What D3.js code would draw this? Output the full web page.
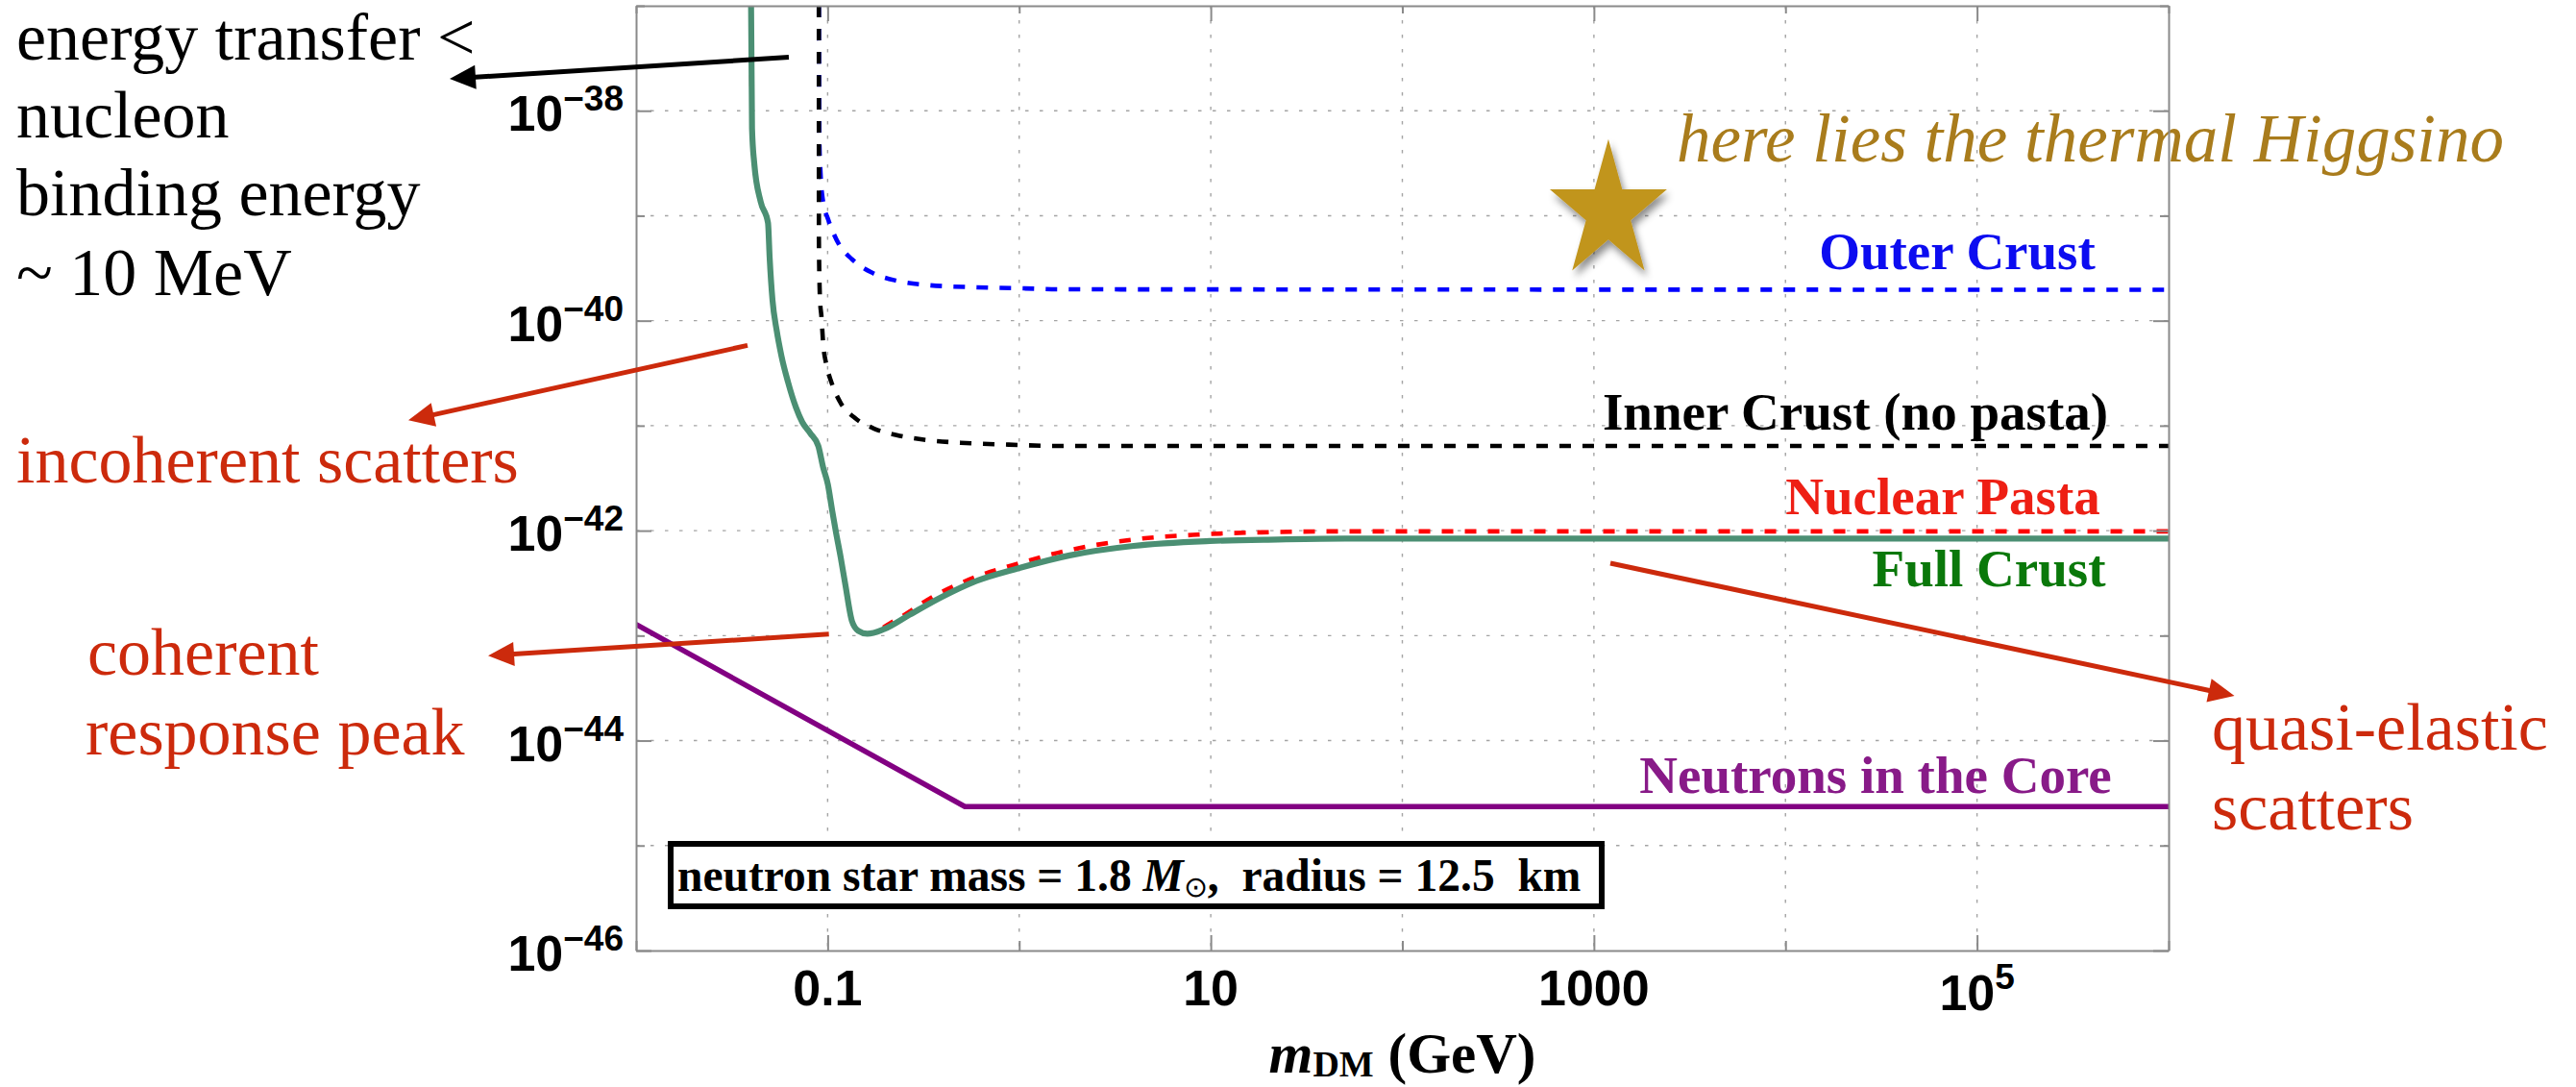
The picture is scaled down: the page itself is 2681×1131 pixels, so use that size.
<!DOCTYPE html>
<html>
<head>
<meta charset="utf-8">
<script src="https://cdn.jsdelivr.net/npm/d3@7"></script>
<style>
  html, body { margin: 0; padding: 0; background: #ffffff; }
  svg { display: block; }
  text { white-space: pre; }
</style>
</head>
<body>
<svg id="chart" width="2681" height="1131"></svg>
<script>
// ---- Dark-matter scattering sensitivity vs. DM mass (GeV) ----

// Full crust (solid green)
const fullCrustMass = [0.03984, 0.0403, 0.04139, 0.04471, 0.04883, 0.0498, 0.05154, 0.05417, 0.05739, 0.06201,
  0.06823, 0.07372, 0.08111, 0.08938, 0.09471, 0.1003, 0.1055, 0.1104, 0.117, 0.124,
  0.134, 0.1445, 0.1611, 0.1967, 0.2679, 0.3934, 0.5778, 0.9908, 1.834, 3.961,
  9.897, 22.39, 50.23, 1e6];
const fullCrustSigma = [1e-37, 6.75e-39, 3.16e-39, 1.36e-39, 8.55e-40, 4.01e-40, 1.57e-40, 8.11e-41, 4.62e-41, 2.63e-41,
  1.50e-41, 1.08e-41, 8.49e-42, 6.41e-42, 4.01e-42, 2.75e-42, 1.57e-42, 9.77e-43, 5.56e-43, 2.98e-43,
  1.37e-43, 1.11e-43, 1.04e-43, 1.15e-43, 1.58e-43, 2.33e-43, 3.24e-43, 4.38e-43, 5.81e-43, 7.16e-43,
  7.96e-43, 8.24e-43, 8.4e-43, 8.4e-43];

// Nuclear pasta (red dashed)
const pastaMass = [0.03984, 0.0403, 0.04139, 0.04471, 0.04883, 0.0498, 0.05154, 0.05417, 0.05739, 0.06201,
  0.06823, 0.07372, 0.08111, 0.08938, 0.09471, 0.1003, 0.1055, 0.1104, 0.117, 0.124,
  0.134, 0.1445, 0.1611, 0.2208, 0.364, 0.5778, 0.9908, 1.834, 3.961, 8.556,
  18.47, 46.35, 1e6];
const pastaSigma = [1e-37, 6.75e-39, 3.16e-39, 1.36e-39, 8.55e-40, 4.01e-40, 1.57e-40, 8.11e-41, 4.62e-41, 2.63e-41,
  1.50e-41, 1.08e-41, 8.49e-42, 6.41e-42, 4.01e-42, 2.75e-42, 1.57e-42, 9.77e-43, 5.56e-43, 2.98e-43,
  1.37e-43, 1.11e-43, 1.04e-43, 1.37e-43, 2.41e-43, 3.55e-43, 4.86e-43, 6.53e-43, 8.24e-43, 9.16e-43,
  9.64e-43, 9.84e-43, 9.84e-43];

// Inner crust, no pasta (black dashed)
const innerMass = [0.09, 0.09002, 0.09125, 0.09287, 0.09471, 0.0984, 0.1042, 0.117, 0.1391, 0.1752,
  0.2294, 0.3122, 0.4955, 0.8826, 1.573, 1e6];
const innerSigma = [1e-37, 5.86e-40, 1.585e-40, 1.086e-40, 6.15e-41, 3.83e-41, 2.65e-41, 1.644e-41, 1.18e-41, 9.35e-42,
  8.13e-42, 7.38e-42, 6.87e-42, 6.59e-42, 6.41e-42, 6.41e-42];

// Outer crust (blue dashed)
const outerMass = [0.09, 0.09053, 0.09181, 0.09471, 0.1003, 0.1063, 0.1147, 0.134, 0.1688, 0.2294,
  0.3373, 0.6008, 1.071, 1.573, 1e6];
const outerSigma = [1e-37, 5.13e-39, 2.56e-39, 1.36e-39, 9.37e-40, 7.08e-40, 5.32e-40, 3.85e-40, 2.89e-40, 2.40e-40,
  2.18e-40, 2.08e-40, 2.03e-40, 1.99e-40, 1.97e-40];

// Neutrons in the core (purple)
const coreMass = [0.01, 0.52, 1e6];
const coreSigma = [1.28e-43, 2.35e-45, 2.35e-45];

// Thermal Higgsino marker
const higgsinoMass = [1190];
const higgsinoSigma = [1.09e-39];

// Axis ticks and labels
const xTickValues = [1e-2, 1e-1, 1, 10, 100, 1e3, 1e4, 1e5, 1e6];
const xLabelValues = [0.1, 10, 1000, 1e5];
const xLabelBase = ["0.1", "10", "1000", "10"];
const xLabelSup = ["", "", "", "5"];
const yTickValues = [1e-46, 1e-45, 1e-44, 1e-43, 1e-42, 1e-41, 1e-40, 1e-39, 1e-38, 1e-37];
const yLabelValues = [1e-38, 1e-40, 1e-42, 1e-44, 1e-46];
const yLabelSup = ["\u221238", "\u221240", "\u221242", "\u221244", "\u221246"];

// ---- layout ----
const plot = { left: 662, right: 2257, top: 6, bottom: 989 };
const SERIF = "'Liberation Serif', 'Times New Roman', serif";
const SANS = "'Liberation Sans', Arial, sans-serif";
const frameColor = "#8a8a8a";
const gridColor = "#a4a4a4";
const arrowRed = "#cc2a0c";

const svg = d3.select("#chart");

const x = d3.scaleLog().domain([1e-2, 1e6]).range([plot.left, plot.right]);
const y = d3.scaleLog().domain([1e-46, 1e-37]).range([plot.bottom, plot.top]);

const defs = svg.append("defs");
defs.append("clipPath").attr("id", "plotClip")
  .append("rect")
  .attr("x", plot.left).attr("y", plot.top)
  .attr("width", plot.right - plot.left).attr("height", plot.bottom - plot.top);
const shadow = defs.append("filter").attr("id", "starShadow")
  .attr("x", "-30%").attr("y", "-30%").attr("width", "170%").attr("height", "170%");
shadow.append("feDropShadow")
  .attr("dx", 3).attr("dy", 5).attr("stdDeviation", 3.5)
  .attr("flood-color", "#000").attr("flood-opacity", 0.45);

// ---- grid ----
const grid = svg.append("g");
grid.selectAll("line.gx")
  .data(xTickValues.slice(1, -1))
  .join("line")
  .attr("x1", d => x(d)).attr("x2", d => x(d))
  .attr("y1", plot.top).attr("y2", plot.bottom)
  .attr("stroke", gridColor).attr("stroke-width", 1.4)
  .attr("stroke-dasharray", "3.5,11.5");
grid.selectAll("line.gy")
  .data(yTickValues.slice(1, -1))
  .join("line")
  .attr("y1", d => y(d)).attr("y2", d => y(d))
  .attr("x1", plot.left).attr("x2", plot.right)
  .attr("stroke", gridColor).attr("stroke-width", 1.4)
  .attr("stroke-dasharray", "3.5,11.5");

// ---- curves ----
const curves = svg.append("g").attr("clip-path", "url(#plotClip)");
const smooth = d3.line().x(d => x(d[0])).y(d => y(d[1])).curve(d3.curveMonotoneX);
const straight = d3.line().x(d => x(d[0])).y(d => y(d[1]));

curves.append("path")
  .attr("d", straight(d3.zip(coreMass, coreSigma)))
  .attr("fill", "none").attr("stroke", "#820082").attr("stroke-width", 5.5);

curves.append("path")
  .attr("d", smooth(d3.zip(pastaMass, pastaSigma)))
  .attr("fill", "none").attr("stroke", "#ff0000").attr("stroke-width", 4.6)
  .attr("stroke-dasharray", "12,12");

curves.append("path")
  .attr("d", smooth(d3.zip(fullCrustMass, fullCrustSigma)))
  .attr("fill", "none").attr("stroke", "#4b8f73").attr("stroke-width", 6.2)
  .attr("stroke-linejoin", "round");

curves.append("path")
  .attr("d", smooth(d3.zip(outerMass, outerSigma)))
  .attr("fill", "none").attr("stroke", "#0000ff").attr("stroke-width", 4.6)
  .attr("stroke-dasharray", "12,12");

curves.append("path")
  .attr("d", smooth(d3.zip(innerMass, innerSigma)))
  .attr("fill", "none").attr("stroke", "#000000").attr("stroke-width", 4.6)
  .attr("stroke-dasharray", "12,12");

// ---- thermal Higgsino star ----
const starR = 64.1;
svg.append("g")
  .selectAll("path.star")
  .data(d3.zip(higgsinoMass, higgsinoSigma))
  .join("path")
  .attr("d", d3.symbol(d3.symbolStar, starR * starR / 0.8908130915292852)())
  .attr("transform", d => `translate(${x(d[0])},${y(d[1])}) scale(1,1.18)`)
  .attr("fill", "#c1951f")
  .attr("filter", "url(#starShadow)");

// italic caption next to the star (under the frame line)
svg.append("text")
  .attr("x", 1745).attr("y", 168)
  .attr("font-family", SERIF).attr("font-style", "italic").attr("font-size", 71)
  .attr("fill", "#a97c1c")
  .text("here lies the thermal Higgsino");

// ---- frame / axes ----
function styleAxis(g) {
  g.select(".domain").attr("stroke", frameColor).attr("stroke-width", 2);
  g.selectAll(".tick line").attr("stroke", frameColor).attr("stroke-width", 2);
  g.selectAll(".tick text").remove();
}
const isXMajor = v => xLabelValues.some(m => Math.abs(Math.log10(m) - Math.log10(v)) < 1e-6);
const isYMajor = v => yLabelValues.some(m => Math.abs(Math.log10(m) - Math.log10(v)) < 1e-6);

const axB = svg.append("g").attr("transform", `translate(0,${plot.bottom})`)
  .call(d3.axisBottom(x).tickValues(xTickValues).tickSizeInner(-16).tickSizeOuter(0).tickFormat(""));
styleAxis(axB);
axB.selectAll(".tick line").attr("y2", d => isXMajor(d) ? -16 : -10);

const axT = svg.append("g").attr("transform", `translate(0,${plot.top})`)
  .call(d3.axisTop(x).tickValues(xTickValues).tickSizeInner(-16).tickSizeOuter(0).tickFormat(""));
styleAxis(axT);
axT.selectAll(".tick line").attr("y2", d => isXMajor(d) ? 16 : 8);

const axL = svg.append("g").attr("transform", `translate(${plot.left},0)`)
  .call(d3.axisLeft(y).tickValues(yTickValues).tickSizeInner(-16).tickSizeOuter(0).tickFormat(""));
styleAxis(axL);
axL.selectAll(".tick line").attr("x2", d => isYMajor(d) ? 16 : 9);

const axR = svg.append("g").attr("transform", `translate(${plot.right},0)`)
  .call(d3.axisRight(y).tickValues(yTickValues).tickSizeInner(-16).tickSizeOuter(0).tickFormat(""));
styleAxis(axR);
axR.selectAll(".tick line").attr("x2", d => isYMajor(d) ? -16 : -9);

// x tick labels
xLabelValues.forEach((v, i) => {
  const hasSup = xLabelSup[i] !== "";
  const t = svg.append("text")
    .attr("x", x(v)).attr("y", hasSup ? 1051 : 1046)
    .attr("text-anchor", "middle")
    .attr("font-family", SANS).attr("font-weight", "bold").attr("font-size", 52)
    .attr("fill", "#000");
  t.append("tspan").text(xLabelBase[i]);
  if (hasSup) t.append("tspan").attr("dy", -22).attr("font-size", 37).text(xLabelSup[i]);
});

// y tick labels
yLabelValues.forEach((v, i) => {
  const t = svg.append("text")
    .attr("x", plot.left - 13).attr("y", y(v) + 21)
    .attr("text-anchor", "end")
    .attr("font-family", SANS).attr("font-weight", "bold").attr("font-size", 52)
    .attr("fill", "#000");
  t.append("tspan").text("10");
  t.append("tspan").attr("dy", -21).attr("font-size", 37).text(yLabelSup[i]);
});

// x axis title
const xTitle = svg.append("text")
  .attr("x", (plot.left + plot.right) / 2).attr("y", 1116)
  .attr("text-anchor", "middle")
  .attr("font-family", SERIF).attr("font-weight", "bold").attr("font-size", 59)
  .attr("fill", "#000");
xTitle.append("tspan").attr("font-style", "italic").text("m");
xTitle.append("tspan").attr("font-size", 38).attr("dy", 4).text("DM");
xTitle.append("tspan").attr("dy", -4).text(" (GeV)");

// ---- curve labels ----
const curveLabels = [
  { text: "Outer Crust", cx: 2037, y: 280, color: "#0c0cf0" },
  { text: "Inner Crust (no pasta)", cx: 1931, y: 447, color: "#000000" },
  { text: "Nuclear Pasta", cx: 2022, y: 535, color: "#ee1f14" },
  { text: "Full Crust", cx: 2070, y: 610, color: "#0a780a" },
  { text: "Neutrons in the Core", cx: 1952, y: 825, color: "#881a88" }
];
svg.append("g").selectAll("text")
  .data(curveLabels)
  .join("text")
  .attr("x", d => d.cx).attr("y", d => d.y)
  .attr("text-anchor", "middle")
  .attr("font-family", SERIF).attr("font-weight", "bold").attr("font-size", 55)
  .attr("fill", d => d.color)
  .text(d => d.text);

// ---- parameter box ----
svg.append("rect")
  .attr("x", 698).attr("y", 878).attr("width", 969).attr("height", 65)
  .attr("fill", "#ffffff").attr("stroke", "#000").attr("stroke-width", 6);
const box = svg.append("text")
  .attr("x", 705).attr("y", 927)
  .attr("font-family", SERIF).attr("font-weight", "bold").attr("font-size", 47.5)
  .attr("fill", "#000");
box.append("tspan").text("neutron star mass = 1.8 ");
box.append("tspan").attr("font-style", "italic").text("M");
box.append("tspan").attr("font-size", 30).attr("dy", 6).attr("font-weight", "normal").text("\u2299");
box.append("tspan").attr("dy", -6).text(",  radius = 12.5  km");

// ---- annotations ----
const notes = svg.append("g").attr("font-family", SERIF).attr("font-size", 70);
[["energy transfer <", 62], ["nucleon", 143], ["binding energy", 224], ["~ 10 MeV", 307]]
  .forEach(([s, yy]) => notes.append("text").attr("x", 17).attr("y", yy).attr("fill", "#000").text(s));
notes.append("text").attr("x", 17).attr("y", 502).attr("fill", arrowRed).text("incoherent scatters");
notes.append("text").attr("x", 91).attr("y", 702).attr("fill", arrowRed).text("coherent");
notes.append("text").attr("x", 89).attr("y", 785).attr("fill", arrowRed).text("response peak");
notes.append("text").attr("x", 2302).attr("y", 780).attr("fill", arrowRed).text("quasi-elastic");
notes.append("text").attr("x", 2302).attr("y", 863).attr("fill", arrowRed).text("scatters");

function arrow(x1, y1, x2, y2, color) {
  const ang = Math.atan2(y2 - y1, x2 - x1);
  const len = 27, half = 12.5;
  const bx = x2 - len * Math.cos(ang), by = y2 - len * Math.sin(ang);
  const nx = -Math.sin(ang), ny = Math.cos(ang);
  svg.append("line")
    .attr("x1", x1).attr("y1", y1)
    .attr("x2", bx + 4 * Math.cos(ang)).attr("y2", by + 4 * Math.sin(ang))
    .attr("stroke", color).attr("stroke-width", 5);
  svg.append("polygon")
    .attr("points", [[x2, y2], [bx + nx * half, by + ny * half], [bx - nx * half, by - ny * half]]
      .map(p => p.join(",")).join(" "))
    .attr("fill", color);
}
arrow(821, 59.5, 468, 82, "#000000");
arrow(778, 359.4, 425, 437.3, arrowRed);
arrow(862.7, 659.8, 508, 682.3, arrowRed);
arrow(1676, 586, 2325.5, 724, arrowRed);
</script>
</body>
</html>
